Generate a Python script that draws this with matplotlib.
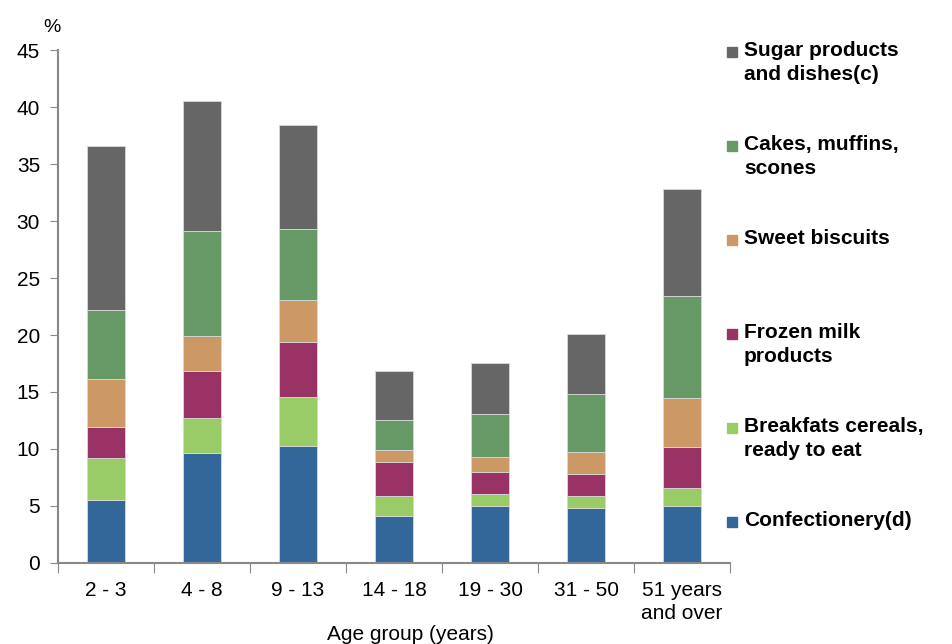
import numpy as np
import matplotlib
matplotlib.use("Agg")
import matplotlib.pyplot as plt
from matplotlib.patches import Rectangle

plt.rcParams['font.family'] = ['Liberation Sans', 'DejaVu Sans']

# age groups on the x axis
groupes = ["2 - 3", "4 - 8", "9 - 13", "14 - 18", "19 - 30", "31 - 50", "51 years\nand over"]

# contribution of each food group (%), bottom to top of each bar
confiserie = [5.5, 9.6, 10.3, 4.1, 5.0, 4.8, 5.0]
cereales = [3.7, 3.1, 4.3, 1.75, 1.05, 1.05, 1.6]
lait_glace = [2.7, 4.1, 4.8, 3.0, 1.95, 1.95, 3.55]
biscuits = [4.2, 3.15, 3.7, 1.05, 1.25, 1.9, 4.35]
gateaux = [6.1, 9.15, 6.2, 2.6, 3.85, 5.1, 8.9]
sucre = [14.4, 11.4, 9.1, 4.3, 4.45, 5.3, 9.4]

series = [confiserie, cereales, lait_glace, biscuits, gateaux, sucre]
noms = ["Confectionery(d)", "Breakfats cereals,\nready to eat", "Frozen milk\nproducts",
        "Sweet biscuits", "Cakes, muffins,\nscones", "Sugar products\nand dishes(c)"]
couleurs = ["#336699", "#99cc66", "#993366", "#cc9966", "#669966", "#666666"]

fig = plt.figure(figsize=(9.52, 6.44), dpi=100)
ax = fig.add_axes([0.061, 0.126, 0.706, 0.796])

x = np.arange(len(groupes))
bas = np.zeros(len(groupes))
for vals, nom, c in zip(series, noms, couleurs):
    ax.bar(x, vals, width=0.4, bottom=bas, color=c, edgecolor="#d9d9d9", linewidth=0.6, label=nom)
    bas += np.array(vals)

ax.set_xlim(-0.5, len(groupes) - 0.5)
ax.set_ylim(0, 45)
ax.set_yticks(np.arange(0, 46, 5))
ax.tick_params(axis='y', labelsize=15, length=6, color="#888888", pad=7)

# tick marks between groups, labels under the bars
ax.set_xticks(np.arange(-0.5, len(groupes), 1))
ax.set_xticklabels([])
ax.set_xticks(x, minor=True)
ax.set_xticklabels(groupes, minor=True, fontsize=15, linespacing=1.25)
ax.tick_params(axis='x', which='major', length=7, color="#888888")
ax.tick_params(axis='x', which='minor', length=0, pad=13)

for s in ["top", "right"]:
    ax.spines[s].set_visible(False)
for s in ["left", "bottom"]:
    ax.spines[s].set_color("#888888")
    ax.spines[s].set_linewidth(1.5)

fig.text(52 / 952, 1 - 28 / 644, "%", fontsize=14, ha="center", va="center")
fig.text(410 / 952, 1 - 634 / 644, "Age group (years)", fontsize=15, ha="center", va="center")

# legend drawn as a column of squares with labels, top entry first
y0 = 52
for i, (nom, c) in enumerate(zip(noms[::-1], couleurs[::-1])):
    yp = y0 + i * 94
    fig.add_artist(Rectangle(((727) / 952, 1 - (yp + 5) / 644), 10 / 952, 10 / 644,
                             transform=fig.transFigure, color=c))
    fig.text(744 / 952, 1 - (yp - 11) / 644, nom, fontsize=15, fontweight="bold",
             ha="left", va="top", linespacing=1.3)

fig.savefig("out.png", dpi=100)
